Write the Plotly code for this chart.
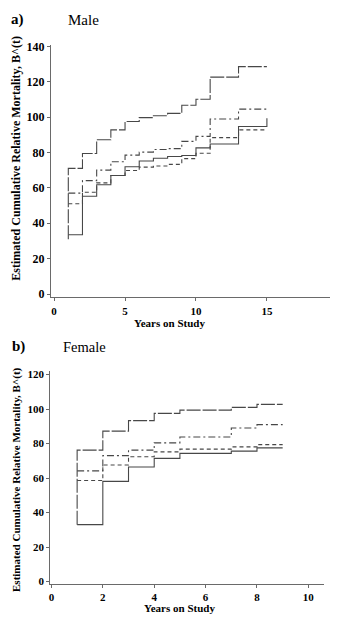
import plotly.graph_objects as go

# ---- data: step values of cumulative relative mortality ----
male_years = [1, 2, 3, 4, 5, 6, 7, 8, 9, 10, 11, 13]
male_end = 15
male_a = [71.0, 79.4, 87.2, 92.8, 97.5, 99.7, 100.8, 102.1, 106.7, 110.1, 122.6, 128.5]
male_a_start = 31.0
male_b = [57.0, 64.1, 70.0, 74.8, 78.5, 80.2, 81.7, 82.2, 86.3, 89.1, 98.9, 104.5]
male_c = [51.0, 57.5, 62.8, 67.0, 69.8, 71.7, 72.4, 73.3, 76.5, 79.6, 88.4, 92.8]
male_d = [33.5, 55.3, 61.8, 67.0, 71.9, 75.2, 76.7, 77.7, 78.3, 82.6, 84.8, 94.7]
male_d_final = 99.3

female_years = [1, 2, 3, 4, 5, 7, 8]
female_end = 9
female_a = [76.2, 87.2, 93.3, 97.5, 99.4, 101.0, 102.7]
female_a_start = 33.0
female_b = [64.2, 73.0, 76.2, 80.4, 83.8, 89.0, 91.0]
female_c = [58.6, 67.6, 72.4, 75.2, 76.8, 78.1, 79.4]
female_d = [33.0, 58.1, 66.4, 71.4, 74.3, 75.6, 77.5]

male_yticks = [0, 20, 40, 60, 80, 100, 120, 140]
male_xticks = [0, 5, 10, 15]
female_yticks = [0, 20, 40, 60, 80, 100, 120]
female_xticks = [0, 2, 4, 6, 8, 10]

LINE = "#474747"
AXIS = "#6a6a6a"
SERIF = "Liberation Serif, Times New Roman, serif"
styles = ["14px,2px", "7px,3px,2px,3px", "4px,3px", "solid"]

W, H = 338, 619


def step_xy(years, vals, end, final=None, start=None):
    xs = list(years) + [end]
    ys = list(vals) + [vals[-1] if final is None else final]
    if start is not None:
        xs = [years[0]] + xs
        ys = [start] + ys
    return xs, ys


fig = go.Figure()

male_sets = [
    step_xy(male_years, male_a, male_end, start=male_a_start),
    step_xy(male_years, male_b, male_end),
    step_xy(male_years, male_c, male_end),
    step_xy(male_years, male_d, male_end, final=male_d_final),
]
female_sets = [
    step_xy(female_years, female_a, female_end, start=female_a_start),
    step_xy(female_years, female_b, female_end),
    step_xy(female_years, female_c, female_end),
    step_xy(female_years, female_d, female_end),
]

for (xs, ys), dash in zip(male_sets, styles):
    fig.add_trace(go.Scatter(x=xs, y=ys, mode="lines", line_shape="hv",
                             line=dict(color=LINE, width=1.1, dash=dash),
                             xaxis="x", yaxis="y", showlegend=False, hoverinfo="skip"))
for (xs, ys), dash in zip(female_sets, styles):
    fig.add_trace(go.Scatter(x=xs, y=ys, mode="lines", line_shape="hv",
                             line=dict(color=LINE, width=1.1, dash=dash),
                             xaxis="x2", yaxis="y2", showlegend=False, hoverinfo="skip"))


def py(px):
    return (H - px) / H


def pxx(px):
    return px / W


axis_common = dict(showline=True, linecolor=AXIS, linewidth=1, ticks="outside",
                   ticklen=3, tickcolor=AXIS, showgrid=False, zeroline=False,
                   color="black")


def tf(size):
    return dict(family=SERIF, size=size, color="black", weight="bold")


fig.update_layout(
    width=W, height=H,
    margin=dict(l=0, r=0, t=0, b=0),
    paper_bgcolor="white", plot_bgcolor="white",
    xaxis=dict(domain=[pxx(50), pxx(330)], range=[-0.23, 19.45], anchor="y",
               tickvals=male_xticks, tickfont=tf(11), **axis_common),
    yaxis=dict(domain=[py(296.7), py(40.5)], range=[-1.9, 140.8], anchor="x",
               tickvals=male_yticks, tickfont=tf(12), **axis_common),
    xaxis2=dict(domain=[pxx(49.3), pxx(324)], range=[-0.05, 10.61], anchor="y2",
                tickvals=female_xticks, tickfont=tf(11), **axis_common),
    yaxis2=dict(domain=[py(587.7), py(371.7)], range=[-1.5, 121.9], anchor="x2",
                tickvals=female_yticks, tickfont=tf(11), **axis_common),
)

ann = []


def label(text, x, y, size, bold=False, angle=0):
    t = f"<b>{text}</b>" if bold else text
    ann.append(dict(text=t, x=pxx(x), y=py(y), xref="paper", yref="paper",
                    xanchor="center", yanchor="middle", showarrow=False,
                    textangle=angle, font=dict(family=SERIF, size=size, color="black")))


label("a)", 17, 15, 15, bold=True)
label("Male", 83, 15, 15)
label("b)", 17.5, 347, 15, bold=True)
label("Female", 83.5, 347, 14.5)
label("Years on Study", 168.5, 322.5, 11, bold=True)
label("Years on Study", 179.5, 612, 11, bold=True)
label("Estimated Cumulative Relative Mortality, B^(t)", 15, 155, 12, bold=True, angle=-90)
label("Estimated Cumulative Relative Mortality, B^(t)", 15, 481, 11, bold=True, angle=-90)

fig.update_layout(annotations=ann)

fig.write_html("out.html")
